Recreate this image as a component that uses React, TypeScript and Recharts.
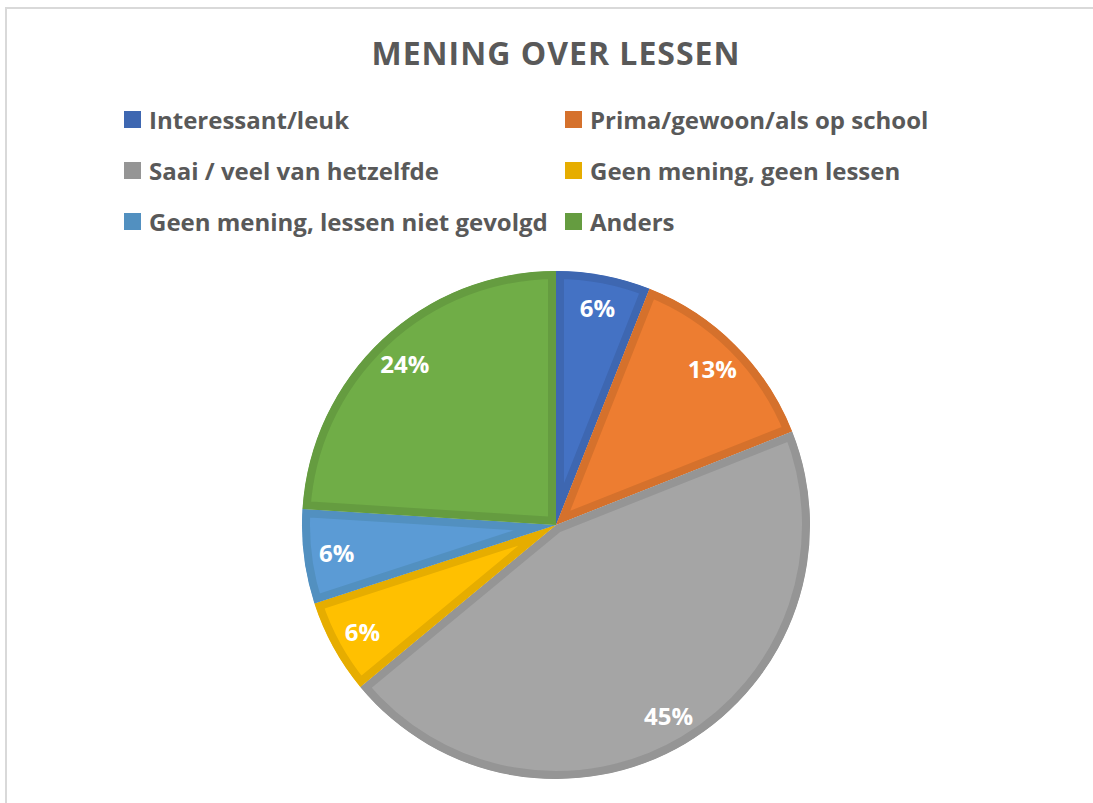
import React from "react";
import { PieChart, Pie, Cell, Sector, Legend } from "recharts";

const categories = [
  "Interessant/leuk",
  "Prima/gewoon/als op school",
  "Saai / veel van hetzelfde",
  "Geen mening, geen lessen",
  "Geen mening, lessen niet gevolgd",
  "Anders",
];
const shares = [6, 13, 45, 6, 6, 24];
const fills = ["#4472C4", "#ED7D31", "#A5A5A5", "#FFC000", "#5B9BD5", "#70AD47"];
const borders = ["#3E67B1", "#D5712C", "#959595", "#E6AD00", "#5290C0", "#659C40"];

const data = categories.map((name, i) => ({ name, value: shares[i] }));

const FONT = "'Open Sans', 'Noto Sans', sans-serif";
const RAD = Math.PI / 180;

// sector with an inner border: stroke twice the width, clipped to the sector itself
function InsetSector(props: any) {
  const id = `clip-${Math.round(props.startAngle * 100)}`;
  return (
    <g>
      <defs>
        <clipPath id={id}>
          <Sector {...props} stroke="none" />
        </clipPath>
      </defs>
      <Sector {...props} strokeWidth={16} clipPath={`url(#${id})`} />
    </g>
  );
}

function renderLabel(props: any) {
  const { cx, cy, midAngle, outerRadius, value } = props;
  const r = outerRadius * 0.87;
  const x = cx + r * Math.cos(-midAngle * RAD);
  const y = cy + r * Math.sin(-midAngle * RAD);
  return (
    <text
      x={x}
      y={y}
      fill="#fff"
      fontFamily={FONT}
      fontWeight={700}
      fontSize={24}
      textAnchor="middle"
      dominantBaseline="central"
    >
      {`${value}%`}
    </text>
  );
}

function LegendGrid() {
  return (
    <div
      style={{
        display: "grid",
        gridTemplateColumns: "441px 400px",
        fontFamily: FONT,
        fontWeight: 700,
        fontSize: 24,
        color: "#595959",
      }}
    >
      {categories.map((c, i) => (
        <div key={c} style={{ display: "flex", alignItems: "center", height: 51 }}>
          <span
            style={{
              display: "inline-block",
              width: 17,
              height: 17,
              background: borders[i],
              marginRight: 8,
            }}
          />
          <span style={{ whiteSpace: "nowrap" }}>{c}</span>
        </div>
      ))}
    </div>
  );
}

export default function App() {
  return (
    <div
      style={{
        position: "absolute",
        left: 0,
        top: 0,
        width: 1093,
        height: 803,
        background: "#fff",
        overflow: "hidden",
      }}
    >
      <div
        style={{
          position: "absolute",
          left: 5,
          top: 7,
          width: 1100,
          height: 810,
          border: "2px solid #D9D9D9",
        }}
      />
      <div style={{ position: "absolute", left: 0, top: 0 }}>
        <PieChart width={1093} height={803} margin={{ top: 0, right: 0, bottom: 0, left: 0 }}>
          <text
            x={556}
            y={52}
            textAnchor="middle"
            dominantBaseline="central"
            fontFamily={FONT}
            fontWeight={700}
            fontSize={32}
            letterSpacing={1}
            fill="#595959"
          >
            MENING OVER LESSEN
          </text>
          <Legend
            content={<LegendGrid />}
            wrapperStyle={{ position: "absolute", left: 124, top: 94, width: 900 }}
          />
          <Pie
            data={data}
            dataKey="value"
            nameKey="name"
            cx={556}
            cy={525}
            outerRadius={254}
            startAngle={90}
            endAngle={-270}
            isAnimationActive={false}
            label={renderLabel}
            labelLine={false}
            shape={InsetSector}
          >
            {data.map((d, i) => (
              <Cell key={d.name} fill={fills[i]} stroke={borders[i]} />
            ))}
          </Pie>
        </PieChart>
      </div>
    </div>
  );
}
